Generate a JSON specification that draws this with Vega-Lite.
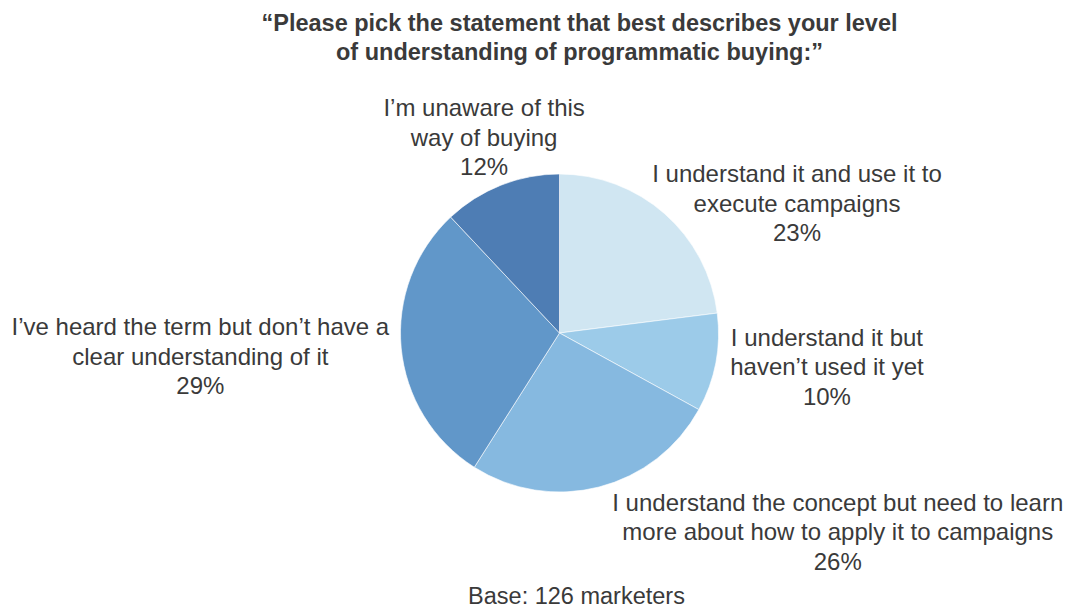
{
  "$schema": "https://vega.github.io/schema/vega-lite/v6.json",
  "background": "white",
  "padding": {"left": 9.5, "top": 11, "right": 0, "bottom": 0},
  "config": {
    "view": {"stroke": null},
    "concat": {"spacing": 0},
    "font": "Liberation Sans"
  },
  "title": {
    "text": "Base: 126 marketers",
    "orient": "bottom",
    "anchor": "middle",
    "dx": 17,
    "offset": 10,
    "font": "Liberation Sans",
    "fontSize": 23.5,
    "fontWeight": "normal",
    "color": "#3a3a3a"
  },
  "vconcat": [
    {
      "width": 1100,
      "height": 480,
      "title": {
        "text": ["“Please pick the statement that best describes your level", "of understanding of programmatic buying:”"],
        "anchor": "middle",
        "dx": 20,
        "offset": 29,
        "font": "Liberation Sans",
        "fontSize": 23.5,
        "fontWeight": "bold",
        "lineHeight": 29,
        "color": "#3a3a3a"
      },
      "data": {
        "values": [
          {"rank": 1, "category": "I understand it and use it to execute campaigns", "label": "I understand it and use it to\nexecute campaigns\n23%", "value": 23},
          {"rank": 2, "category": "I understand it but haven’t used it yet", "label": "I understand it but\nhaven’t used it yet\n10%", "value": 10},
          {"rank": 3, "category": "I understand the concept but need to learn more about how to apply it to campaigns", "label": "I understand the concept but need to learn\nmore about how to apply it to campaigns\n26%", "value": 26},
          {"rank": 4, "category": "I’ve heard the term but don’t have a clear understanding of it", "label": "I’ve heard the term but don’t have a\nclear understanding of it\n29%", "value": 29},
          {"rank": 5, "category": "I’m unaware of this way of buying", "label": "I’m unaware of this\nway of buying\n12%", "value": 12}
        ]
      },
      "transform": [
        {"stack": "value", "groupby": [], "sort": [{"field": "rank", "order": "ascending"}], "as": ["v0", "v1"]}
      ],
      "layer": [
        {
          "mark": {"type": "arc", "outerRadius": 159, "stroke": "white", "strokeWidth": 0.6},
          "encoding": {
            "theta": {"field": "v0", "type": "quantitative", "scale": {"domain": [0, 100]}},
            "theta2": {"field": "v1"},
            "color": {
              "field": "category",
              "type": "nominal",
              "legend": null,
              "scale": {
                "domain": [
                  "I understand it and use it to execute campaigns",
                  "I understand it but haven’t used it yet",
                  "I understand the concept but need to learn more about how to apply it to campaigns",
                  "I’ve heard the term but don’t have a clear understanding of it",
                  "I’m unaware of this way of buying"
                ],
                "range": ["#d0e6f2", "#9ccbe9", "#86b9e0", "#6197c9", "#4e7db4"]
              }
            }
          }
        },
        {
          "transform": [{"filter": "datum.rank == 1"}],
          "mark": {"type": "text", "radius": 200, "dx": 237.5, "dy": 42, "align": "center", "baseline": "middle", "lineBreak": "\n", "lineHeight": 29.5, "fontSize": 24, "fill": "#3a3a3a", "font": "Liberation Sans"},
          "encoding": {
            "theta": {"field": "v0", "type": "quantitative", "stack": null, "scale": {"domain": [0, 100]}},
            "text": {"field": "label", "type": "nominal"}
          }
        },
        {
          "transform": [{"filter": "datum.rank == 2"}],
          "mark": {"type": "text", "radius": 200, "dx": 69, "dy": 31, "align": "center", "baseline": "middle", "lineBreak": "\n", "lineHeight": 29.5, "fontSize": 24, "fill": "#3a3a3a", "font": "Liberation Sans"},
          "encoding": {
            "theta": {"field": "v0", "type": "quantitative", "stack": null, "scale": {"domain": [0, 100]}},
            "text": {"field": "label", "type": "nominal"}
          }
        },
        {
          "transform": [{"filter": "datum.rank == 3"}],
          "mark": {"type": "text", "radius": 200, "dx": 103, "dy": 74.5, "align": "center", "baseline": "middle", "lineBreak": "\n", "lineHeight": 29.5, "fontSize": 24, "fill": "#3a3a3a", "font": "Liberation Sans"},
          "encoding": {
            "theta": {"field": "v0", "type": "quantitative", "stack": null, "scale": {"domain": [0, 100]}},
            "text": {"field": "label", "type": "nominal"}
          }
        },
        {
          "transform": [{"filter": "datum.rank == 4"}],
          "mark": {"type": "text", "radius": 200, "dx": -252, "dy": -173.5, "align": "center", "baseline": "middle", "lineBreak": "\n", "lineHeight": 29.5, "fontSize": 24, "fill": "#3a3a3a", "font": "Liberation Sans"},
          "encoding": {
            "theta": {"field": "v0", "type": "quantitative", "stack": null, "scale": {"domain": [0, 100]}},
            "text": {"field": "label", "type": "nominal"}
          }
        },
        {
          "transform": [{"filter": "datum.rank == 5"}],
          "mark": {"type": "text", "radius": 200, "dx": 61.5, "dy": -78, "align": "center", "baseline": "middle", "lineBreak": "\n", "lineHeight": 29.5, "fontSize": 24, "fill": "#3a3a3a", "font": "Liberation Sans"},
          "encoding": {
            "theta": {"field": "v0", "type": "quantitative", "stack": null, "scale": {"domain": [0, 100]}},
            "text": {"field": "label", "type": "nominal"}
          }
        }
      ]
    }
  ]
}
